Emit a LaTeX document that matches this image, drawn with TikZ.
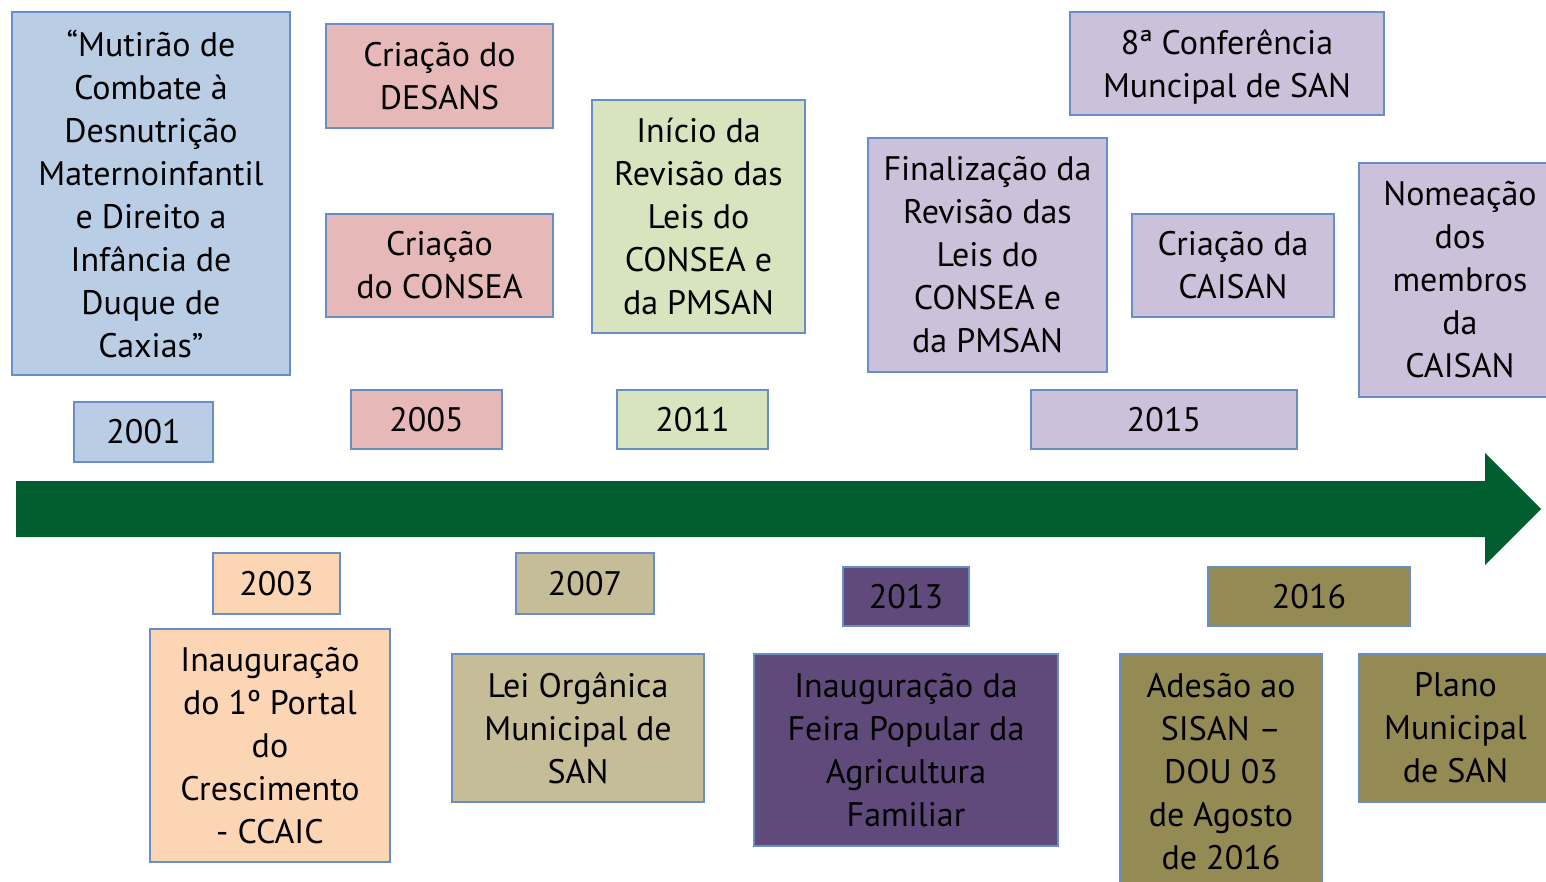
\documentclass[tikz,border=0pt]{standalone}
\usepackage{fontspec}
\setmainfont{PT Sans}
\usepackage{tikz}

\definecolor{boxline}{RGB}{104,142,201}
\definecolor{azul}{RGB}{185,205,229}
\definecolor{rosa}{RGB}{230,185,184}
\definecolor{verdeclaro}{RGB}{215,228,189}
\definecolor{lilas}{RGB}{204,193,218}
\definecolor{pessego}{RGB}{252,213,181}
\definecolor{areia}{RGB}{196,189,151}
\definecolor{roxo}{RGB}{96,74,123}
\definecolor{oliva}{RGB}{148,138,84}
\definecolor{seta}{RGB}{0,94,46}

\begin{document}
\begin{tikzpicture}[x=0.5pt,y=-0.5pt,
  box/.style={draw=boxline,line width=1pt,align=center,inner sep=0pt,
    font=\fontsize{17}{21.5}\selectfont},
  sz/.style 2 args={minimum width=#1*0.5pt,minimum height=#2*0.5pt}]
\clip (0,0) rectangle (1546,882);

% linha do tempo
\fill[seta] (16,481) -- (1485,481) -- (1485,453) -- (1541,509)
  -- (1485,565) -- (1485,537) -- (16,537) -- cycle;

% acima da seta
\node[box,fill=azul,sz={278}{363}] (mutirao) at (151,193.5)
  {“Mutirão de\\Combate à\\Desnutrição\\Maternoinfantil\\e Direito a\\Infância de\\Duque de\\Caxias”};
\node[box,fill=azul,sz={139}{60}] (a2001) at (143.5,432) {2001};
\node[box,fill=rosa,sz={227}{104}] (desans) at (439.5,76) {Criação do\\DESANS};
\node[box,fill=rosa,sz={227}{103}] (consea) at (439.5,265.5) {Criação\\do CONSEA};
\node[box,fill=rosa,sz={151}{59}] (a2005) at (426.5,419.5) {2005};
\node[box,fill=verdeclaro,sz={213}{233}] (inicio) at (698.5,216.5)
  {Início da\\Revisão das\\Leis do\\CONSEA e\\da PMSAN};
\node[box,fill=verdeclaro,sz={151}{59}] (a2011) at (692.5,419.5) {2011};
\node[box,fill=lilas,sz={314}{103}] (conferencia) at (1227,63.5)
  {\rule{0pt}{16pt}8ª Conferência\\Muncipal de SAN};
\node[box,fill=lilas,sz={239}{234}] (final) at (987.5,255)
  {Finalização da\\Revisão das\\Leis do\\CONSEA e\\da PMSAN};
\node[box,fill=lilas,sz={202}{103}] (caisan) at (1233,265.5) {Criação da\\CAISAN};
\node[box,fill=lilas,sz={266}{59}] (a2015) at (1164,419.5) {2015};
\node[box,fill=lilas,sz={202}{234}] (nomeacao) at (1460,280)
  {Nomeação\\dos\\membros\\da\\CAISAN};

% abaixo da seta
\node[box,fill=pessego,sz={127}{61}] (a2003) at (276.5,583.5) {2003};
\node[box,fill=pessego,sz={240}{233}] (ccaic) at (270,745.5)
  {Inauguração\\do 1º Portal\\do\\Crescimento\\- CCAIC};
\node[box,fill=areia,sz={138}{61}] (a2007) at (585,583.5) {2007};
\node[box,fill=areia,sz={252}{148}] (lei) at (578,728)
  {Lei Orgânica\\Municipal de\\SAN};
\node[box,fill=roxo,sz={126}{59}] (a2013) at (906,596.5) {2013};
\node[box,fill=roxo,sz={304}{192}] (feira) at (906,750)
  {Inauguração da\\Feira Popular da\\Agricultura\\Familiar};
\node[box,fill=oliva,sz={202}{59}] (a2016) at (1309,596.5) {2016};
\node[box,fill=oliva,sz={202}{235}] (adesao) at (1221,771.5)
  {Adesão ao\\SISAN –\\DOU 03\\de Agosto\\de 2016};
\node[box,fill=oliva,sz={193}{148}] (plano) at (1455.5,728)
  {Plano\\Municipal\\de SAN};
\end{tikzpicture}
\end{document}
